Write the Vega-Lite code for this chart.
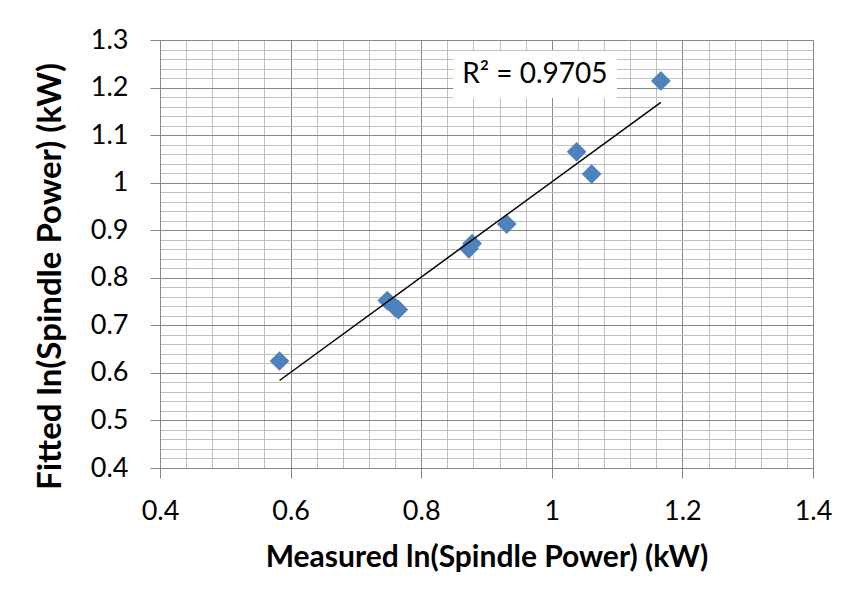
{
  "$schema": "https://vega.github.io/schema/vega-lite/v6.json",
  "width": 653,
  "height": 428,
  "autosize": "none",
  "padding": {"left": 160, "top": 40, "right": 40, "bottom": 137},
  "background": "white",
  "config": {"view": {"stroke": null}, "font": "Lato"},
  "datasets": {
    "points": [
      {"measured": 0.583, "fitted": 0.625},
      {"measured": 0.748, "fitted": 0.752},
      {"measured": 0.760, "fitted": 0.738},
      {"measured": 0.765, "fitted": 0.733},
      {"measured": 0.873, "fitted": 0.861},
      {"measured": 0.878, "fitted": 0.872},
      {"measured": 0.931, "fitted": 0.913},
      {"measured": 1.038, "fitted": 1.065},
      {"measured": 1.061, "fitted": 1.018},
      {"measured": 1.167, "fitted": 1.214}
    ],
    "trend": [
      {"measured": 0.583, "fitted": 0.584},
      {"measured": 1.167, "fitted": 1.169}
    ]
  },
  "layer": [
    {
      "data": {"name": "points"},
      "mark": {"type": "point", "shape": "diamond", "filled": true, "size": 390, "color": "#4F81BD", "opacity": 1},
      "encoding": {
        "x": {
          "field": "measured", "type": "quantitative",
          "scale": {"domain": [0.4, 1.4], "nice": false, "zero": false},
          "axis": {
            "values": [0.4,0.44,0.48,0.52,0.56,0.6,0.64,0.68,0.72,0.76,0.8,0.84,0.88,0.92,0.96,1,1.04,1.08,1.12,1.16,1.2,1.24,1.28,1.32,1.36,1.4],
            "tickCount": 200,
            "title": "Measured ln(Spindle Power) (kW)",
            "grid": true,
            "gridColor": {"condition": {"test": "abs(datum.value*5 - round(datum.value*5)) < 0.001", "value": "#878787"}, "value": "#c0c0c0"},
            "gridWidth": 1,
            "tickSize": 10,
            "tickColor": "#878787",
            "tickOpacity": {"condition": {"test": "abs(datum.value*5 - round(datum.value*5)) < 0.001", "value": 1}, "value": 0},
            "domainColor": "#878787",
            "labelExpr": "abs(datum.value*5 - round(datum.value*5)) < 0.001 ? format(datum.value, '~g') : ''",
            "labelFlush": false,
            "labelOverlap": false,
            "labelFont": "Lato",
            "labelFontSize": 27,
            "labelColor": "black",
            "labelPadding": 20,
            "titleFont": "Lato",
            "titleFontSize": 30,
            "titleFontWeight": "bold",
            "titleColor": "black",
            "titleY": 98,
            "titleBaseline": "alphabetic"
          }
        },
        "y": {
          "field": "fitted", "type": "quantitative",
          "scale": {"domain": [0.4, 1.3], "nice": false, "zero": false},
          "axis": {
            "values": [0.4,0.42,0.44,0.46,0.48,0.5,0.52,0.54,0.56,0.58,0.6,0.62,0.64,0.66,0.68,0.7,0.72,0.74,0.76,0.78,0.8,0.82,0.84,0.86,0.88,0.9,0.92,0.94,0.96,0.98,1,1.02,1.04,1.06,1.08,1.1,1.12,1.14,1.16,1.18,1.2,1.22,1.24,1.26,1.28,1.3],
            "tickCount": 200,
            "title": "Fitted ln(Spindle Power) (kW)",
            "grid": true,
            "gridColor": {"condition": {"test": "abs(datum.value*10 - round(datum.value*10)) < 0.001", "value": "#878787"}, "value": "#c0c0c0"},
            "gridWidth": 1,
            "tickSize": 10,
            "tickColor": "#878787",
            "tickOpacity": {"condition": {"test": "abs(datum.value*10 - round(datum.value*10)) < 0.001", "value": 1}, "value": 0},
            "domainColor": "#878787",
            "labelExpr": "abs(datum.value*10 - round(datum.value*10)) < 0.001 ? format(datum.value, '~g') : ''",
            "labelFlush": false,
            "labelOverlap": false,
            "labelFont": "Lato",
            "labelFontSize": 27,
            "labelColor": "black",
            "labelPadding": 22,
            "titleFont": "Lato",
            "titleFontSize": 33,
            "titleFontWeight": "bold",
            "titleColor": "black",
            "titleX": -100,
            "titleY": 236,
            "titleBaseline": "alphabetic"
          }
        }
      }
    },
    {
      "data": {"name": "trend"},
      "mark": {"type": "line", "color": "black", "strokeWidth": 1.5},
      "encoding": {
        "x": {"field": "measured", "type": "quantitative"},
        "y": {"field": "fitted", "type": "quantitative"}
      }
    },
    {
      "data": {"values": [{}]},
      "mark": {"type": "rect", "color": "white", "opacity": 1},
      "encoding": {
        "x": {"datum": 0.849, "type": "quantitative"},
        "x2": {"datum": 1.1},
        "y": {"datum": 1.178, "type": "quantitative"},
        "y2": {"datum": 1.277}
      }
    },
    {
      "data": {"values": [{}]},
      "mark": {"type": "text", "text": "R² = 0.9705", "font": "Lato", "fontSize": 28, "color": "black", "align": "center", "baseline": "middle"},
      "encoding": {
        "x": {"datum": 0.974, "type": "quantitative"},
        "y": {"datum": 1.226, "type": "quantitative"}
      }
    }
  ]
}
